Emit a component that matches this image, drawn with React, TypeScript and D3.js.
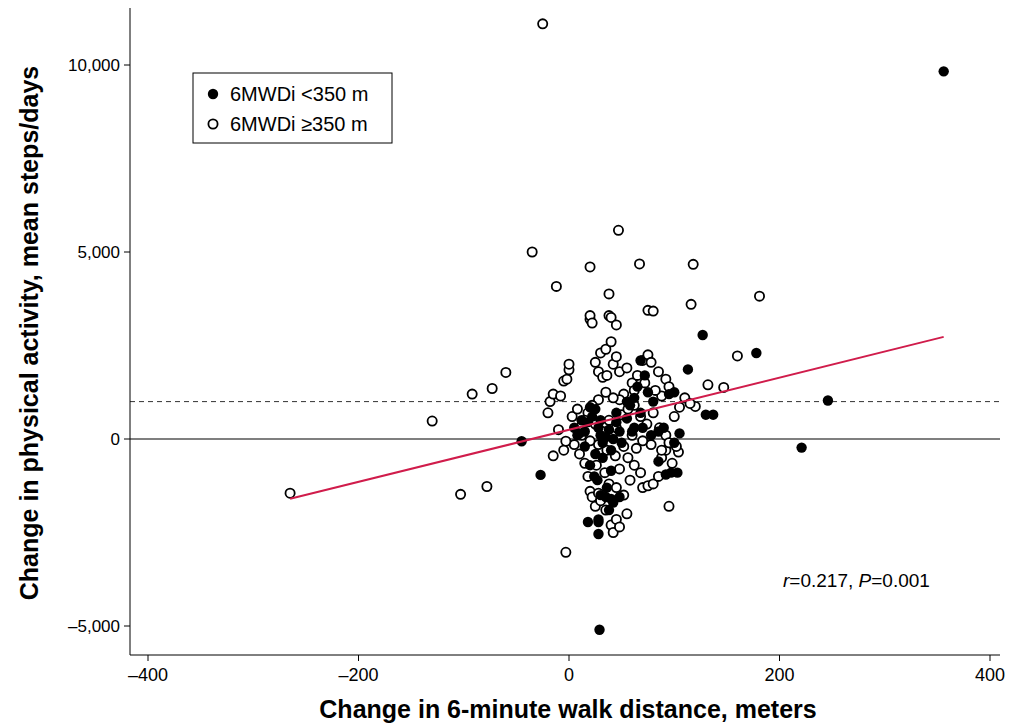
import React from 'react';
import * as d3 from 'd3';

const xTicks = [-400, -200, 0, 200, 400];
const yTicks = [-5000, 0, 5000, 10000];

// filled: 6MWDi <350 m
const lowGroup: [number, number][] = [
  [356, 9830], [246, 1030], [221, -230], [178, 2300], [127, 2780], [113, 1860], [130, 650], [137, 650],
  [29, -5100], [-27, -960], [-45, -60], [18, -2220], [28, -2220], [28, -2540], [97, -900], [103, -900],
  [5, 300], [10, 150], [15, 200], [18, 450], [22, 600], [25, 800], [28, 300], [30, 100], [32, -100], [35, 50],
  [38, 250], [40, -300], [42, 0], [45, 450], [48, 200], [50, -100], [55, 550], [58, 900], [62, 1100], [65, 1400],
  [68, 2100], [72, 1700], [75, 1250], [80, 1000], [85, 200], [90, 300], [95, 1200], [100, 1250], [100, -100],
  [105, 150], [20, -700], [24, -1000], [27, -1100], [30, -1500], [35, -1550], [40, -1600], [42, -1700],
  [38, -1900], [48, -1550], [25, -400], [32, -500], [15, -200], [60, 200], [70, 300], [78, 100], [85, -600],
  [92, -950], [68, 700], [55, 1000], [45, 700], [30, 500], [20, 850], [12, 500], [8, 100], [62, 300],
  [40, -850], [36, -1300], [28, -2150],
];

// open: 6MWDi ≥350 m
const highGroup: [number, number][] = [
  [-265, -1450], [-130, 480], [-103, -1480], [-78, -1270], [-92, 1200], [-73, 1350], [-60, 1780], [-35, 5000],
  [-25, 11100], [-12, 4080], [20, 4600], [47, 5580], [67, 4680], [118, 4670], [181, 3820], [116, 3600],
  [160, 2220], [147, 1380], [132, 1450], [120, 870], [-3, -3030], [95, -1800], [75, 3440], [80, 3420], [38, 3880],
  [-20, 700], [-18, 1000], [-15, 1200], [-8, 1150], [-5, 1550], [-2, 1600], [0, 1850], [0, 2000], [5, -150],
  [-3, -60], [-10, 250], [-15, -450], [-5, -300], [3, 600], [8, 800], [12, 350], [10, -400], [15, -650],
  [18, -1000], [20, -1400], [22, -1550], [25, -1800], [28, -1450], [30, -1650], [35, -1900], [40, -2300],
  [42, -2500], [45, -2150], [48, -2350], [55, -2000], [38, -1200], [45, -1300], [52, -1500], [58, -1100],
  [62, -700], [68, -900], [70, -1300], [75, -1250], [80, -1200], [85, -1000], [88, -500], [92, -300], [98, -650],
  [104, -350], [20, 3200], [20, 3300], [22, 3100], [38, 3300], [40, 3250], [45, 3050], [30, 2300], [35, 2400],
  [40, 2600], [42, 2000], [45, 2200], [25, 2050], [28, 1800], [32, 1650], [36, 1700], [48, 1800], [55, 1900],
  [60, 1500], [65, 1700], [70, 2100], [75, 2250], [78, 2050], [85, 1800], [92, 1600], [95, 1400], [88, 1150],
  [82, 1300], [72, 1500], [62, 1300], [52, 1200], [48, 1050], [42, 1100], [35, 1250], [28, 1050], [22, 900],
  [18, 700], [15, 500], [25, 400], [32, 200], [38, 500], [45, 300], [50, 650], [56, 800], [62, 900], [68, 600],
  [74, 400], [80, 700], [86, 300], [92, 100], [100, 600], [105, 850], [95, -100], [88, -300], [78, -150],
  [70, -50], [60, 100], [52, -200], [44, -450], [36, -300], [28, -150], [20, -50], [12, 100], [48, -800],
  [56, -500], [64, -250], [34, -900], [26, -700], [102, -200], [110, 1100], [115, 950],
];

const fitLine: [number, number][] = [[-265, -1600], [356, 2730]];
const threshold = 1000;

const fmt = (v: number) => (v < 0 ? '\u2013' + d3.format(',')(-v) : d3.format(',')(v));

export default function App() {
  const W = 1010, H = 723;
  const left = 130, right = 1000, top = 8, bottom = 655;
  const x = d3.scaleLinear().domain([-400, 400]).range([148, 990]);
  const y = d3.scaleLinear().domain([0, 10000]).range([439, 65]);
  const line = d3.line<[number, number]>().x(d => x(d[0])).y(d => y(d[1]));
  const font = 'Arial, "Liberation Sans", sans-serif';

  return (
    <svg width={W} height={H} style={{ position: 'absolute', left: 0, top: 0, fontFamily: font }}>
      <line x1={left} x2={right} y1={y(0)} y2={y(0)} stroke="#555" strokeWidth={1.5} />
      <line x1={left} x2={right} y1={y(threshold)} y2={y(threshold)} stroke="#333" strokeWidth={1} strokeDasharray="5,4" />
      {highGroup.map((d, i) => (
        <circle key={'h' + i} cx={x(d[0])} cy={y(d[1])} r={4.6} fill="white" stroke="black" strokeWidth={1.8} />
      ))}
      {lowGroup.map((d, i) => (
        <circle key={'l' + i} cx={x(d[0])} cy={y(d[1])} r={5.2} fill="black" />
      ))}
      <path d={line(fitLine) ?? ''} stroke="#d01c4b" strokeWidth={2} fill="none" />

      <line x1={left} x2={left} y1={top} y2={bottom} stroke="black" />
      <line x1={left} x2={right} y1={bottom} y2={bottom} stroke="black" />
      {xTicks.map(t => (
        <g key={t}>
          <line x1={x(t)} x2={x(t)} y1={bottom} y2={bottom + 6} stroke="black" />
          <text x={x(t)} y={bottom + 26} textAnchor="middle" fontSize={18}>{fmt(t)}</text>
        </g>
      ))}
      {yTicks.map(t => (
        <g key={t}>
          <line x1={left - 6} x2={left} y1={y(t)} y2={y(t)} stroke="black" />
          <text x={left - 10} y={y(t) + 6} textAnchor="end" fontSize={17}>{fmt(t)}</text>
        </g>
      ))}
      <text x={568} y={718} textAnchor="middle" fontSize={25} fontWeight="bold">Change in 6-minute walk distance, meters</text>
      <text transform={`translate(38,333) rotate(-90)`} textAnchor="middle" fontSize={25} fontWeight="bold">
        Change in physical activity, mean steps/days
      </text>

      <rect x={193} y={73} width={199} height={70} fill="white" stroke="black" />
      <circle cx={213} cy={94} r={5.2} fill="black" />
      <text x={230} y={101} fontSize={20}>6MWDi &lt;350 m</text>
      <circle cx={213} cy={124} r={4.6} fill="white" stroke="black" strokeWidth={1.8} />
      <text x={230} y={131} fontSize={20}>6MWDi ≥350 m</text>

      <text x={783} y={587} fontSize={19}>
        <tspan fontStyle="italic">r</tspan>=0.217, <tspan fontStyle="italic">P</tspan>=0.001
      </text>
    </svg>
  );
}
